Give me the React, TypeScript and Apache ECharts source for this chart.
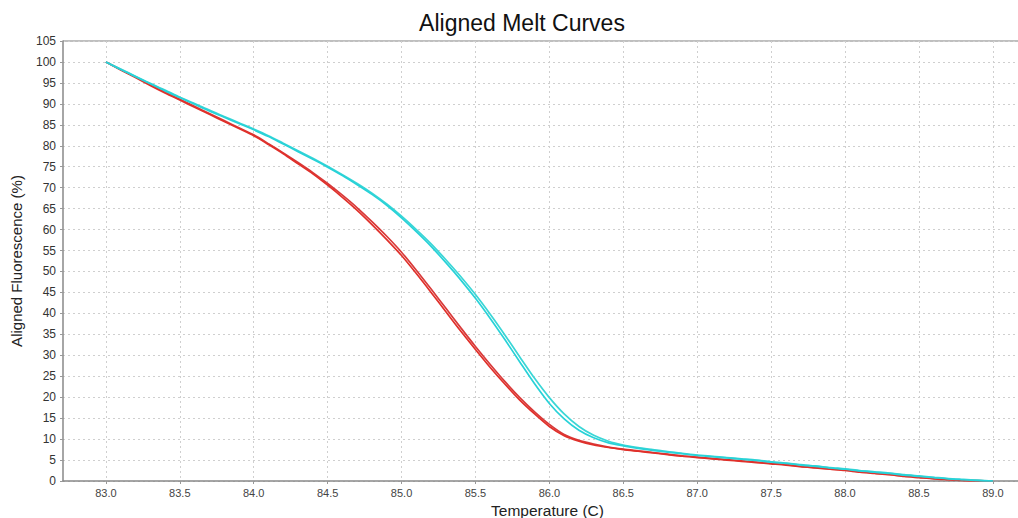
import React, { useEffect, useRef } from "react";
import * as echarts from "echarts";

const temps = [
  83.0, 83.1, 83.2, 83.3, 83.4, 83.5, 83.6, 83.7, 83.8, 83.9,
  84.0, 84.1, 84.2, 84.3, 84.4, 84.5, 84.6, 84.7, 84.8, 84.9,
  85.0, 85.1, 85.2, 85.3, 85.4, 85.5, 85.6, 85.7, 85.8, 85.9,
  86.0, 86.1, 86.2, 86.3, 86.4, 86.5, 86.6, 86.7, 86.8, 86.9,
  87.0, 87.1, 87.2, 87.3, 87.4, 87.5, 87.6, 87.7, 87.8, 87.9,
  88.0, 88.1, 88.2, 88.3, 88.4, 88.5, 88.6, 88.7, 88.8, 88.9,
  89.0,
];

const cyanA = [
  100, 98.3, 96.6, 94.9, 93.3, 91.6, 90.1, 88.5, 87.0, 85.5,
  84.0, 82.4, 80.6, 78.8, 77.0, 75.1, 73.1, 71.0, 68.7, 66.1,
  63.2, 60.0, 56.6, 52.8, 48.8, 44.5, 39.8, 34.8, 29.6, 24.5,
  19.9, 16.0, 13.0, 10.9, 9.5, 8.6, 8.0, 7.5, 7.0, 6.6,
  6.2, 5.9, 5.6, 5.3, 5.0, 4.6, 4.3, 3.9, 3.6, 3.2,
  2.9, 2.5, 2.2, 1.9, 1.5, 1.2, 0.9, 0.6, 0.4, 0.2,
  0,
];

const cyanB = [
  100, 98.2, 96.5, 94.8, 93.1, 91.5, 89.9, 88.3, 86.8, 85.3,
  83.8, 82.2, 80.4, 78.6, 76.8, 74.9, 72.9, 70.7, 68.4, 65.8,
  62.8, 59.5, 56.0, 52.1, 48.0, 43.6, 38.8, 33.7, 28.4, 23.2,
  18.5, 14.8, 12.1, 10.3, 9.1, 8.4, 7.8, 7.3, 6.9, 6.5,
  6.1, 5.8, 5.5, 5.2, 4.9, 4.5, 4.2, 3.8, 3.5, 3.1,
  2.8, 2.4, 2.1, 1.8, 1.4, 1.1, 0.8, 0.5, 0.3, 0.1,
  0,
];

const redA = [
  100, 98.2, 96.4, 94.6, 92.8, 91.1, 89.4, 87.7, 86.0, 84.3,
  82.6, 80.5, 78.3, 76.0, 73.6, 71.0, 68.2, 65.2, 61.9, 58.4,
  54.6, 50.3, 45.8, 41.2, 36.6, 32.1, 27.8, 23.7, 19.9, 16.5,
  13.5, 11.1, 9.7, 8.8, 8.1, 7.6, 7.2, 6.8, 6.4, 6.0,
  5.7, 5.4, 5.1, 4.8, 4.5, 4.2, 3.9, 3.5, 3.2, 2.9,
  2.6, 2.2, 1.9, 1.6, 1.2, 0.9, 0.6, 0.4, 0.2, 0.1,
  0,
];

const redB = [
  100, 98.1, 96.3, 94.4, 92.6, 90.9, 89.2, 87.5, 85.8, 84.1,
  82.4, 80.3, 78.1, 75.7, 73.3, 70.6, 67.7, 64.6, 61.2, 57.6,
  53.8, 49.5, 45.0, 40.4, 35.8, 31.4, 27.1, 23.1, 19.3, 16.0,
  13.0, 10.8, 9.5, 8.6, 8.0, 7.5, 7.1, 6.7, 6.3, 5.9,
  5.6, 5.3, 5.0, 4.7, 4.4, 4.1, 3.8, 3.4, 3.1, 2.8,
  2.5, 2.1, 1.8, 1.5, 1.1, 0.8, 0.5, 0.3, 0.1, 0.0,
  0,
];

const xTicks = [83.0, 83.5, 84.0, 84.5, 85.0, 85.5, 86.0, 86.5, 87.0, 87.5, 88.0, 88.5, 89.0];

const FONT = "'Liberation Sans', Arial, sans-serif";

function pairs(ys: number[]) {
  return temps.map((t, i) => [t, ys[i]]);
}

export default function App() {
  const ref = useRef<HTMLDivElement>(null);
  useEffect(() => {
    if (!ref.current) return;
    const chart = echarts.init(ref.current, undefined, { renderer: "svg" });
    const mk = (name: string, ys: number[], color: string) => ({
      name,
      type: "line",
      data: pairs(ys),
      showSymbol: false,
      smooth: 0.25,
      lineStyle: { color, width: 1.7 },
      itemStyle: { color },
    });
    chart.setOption({
      animation: false,
      backgroundColor: "#ffffff",
      title: {
        text: "Aligned Melt Curves",
        left: 517,
        textAlign: "center",
        top: 6,
        textStyle: { fontFamily: FONT, fontSize: 23, fontWeight: "normal", color: "#111" },
      },
      grid: {
        left: 63,
        right: 0,
        top: 41,
        height: 440,
        containLabel: false,
        outerBoundsMode: "none",
      },
      xAxis: {
        type: "value",
        min: 82.71,
        max: 89.17,
        name: "Temperature (C)",
        nameLocation: "middle",
        nameGap: 21,
        nameTextStyle: { fontFamily: FONT, fontSize: 15.5, color: "#222", padding: [0, 0, 0, 14] },
        axisLine: { show: true, lineStyle: { color: "#888", width: 1.5 } },
        axisTick: { show: true, customValues: xTicks, length: 3, lineStyle: { color: "#999" } },
        axisLabel: {
          customValues: xTicks,
          formatter: (v: number) => v.toFixed(1),
          fontFamily: FONT,
          fontSize: 11,
          color: "#444",
          margin: 6,
        },
        splitLine: { show: true, lineStyle: { color: "#cfcfcf", type: [2, 3], width: 1 } },
      },
      yAxis: {
        type: "value",
        min: 0,
        max: 105,
        interval: 5,
        name: "Aligned Fluorescence (%)",
        nameLocation: "middle",
        nameGap: 39,
        nameTextStyle: { fontFamily: FONT, fontSize: 15, color: "#222" },
        axisLine: { show: true, lineStyle: { color: "#888", width: 1.5 } },
        axisTick: { show: true, length: 3, lineStyle: { color: "#999" } },
        axisLabel: { fontFamily: FONT, fontSize: 12, color: "#333", margin: 7 },
        splitLine: { show: true, lineStyle: { color: "#cfcfcf", type: [2, 3], width: 1 } },
      },
      graphic: [
        {
          type: "line",
          shape: { x1: 63, y1: 41, x2: 1018, y2: 41 },
          style: { stroke: "#aaa", lineWidth: 1.5 },
        },
      ],
      series: [
        mk("Red 1", redA, "#d83a3a"),
        mk("Red 2", redB, "#e0302a"),
        mk("Cyan 1", cyanA, "#3ad6d6"),
        mk("Cyan 2", cyanB, "#28d2d8"),
      ],
    });
    return () => chart.dispose();
  }, []);
  return (
    <div
      ref={ref}
      style={{ position: "fixed", left: 0, top: 0, width: 1018, height: 518, background: "#fff" }}
    />
  );
}
